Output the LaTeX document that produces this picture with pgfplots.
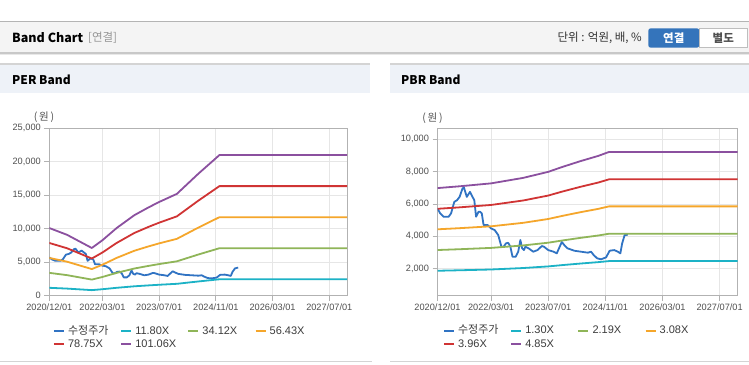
\documentclass[border=0pt]{standalone}
\usepackage{pgfplots}
\pgfplotsset{compat=1.18}
\usepackage{fontspec}
\setmainfont{Liberation Sans}
\newfontfamily\kr{Noto Sans CJK KR}
\definecolor{cprice}{RGB}{48,115,195}
\definecolor{ccyan}{RGB}{28,178,198}
\definecolor{cgreen}{RGB}{143,181,88}
\definecolor{corange}{RGB}{245,166,43}
\definecolor{cred}{RGB}{208,52,52}
\definecolor{cpurple}{RGB}{139,80,159}
\definecolor{gridc}{RGB}{230,230,230}
\definecolor{axisc}{RGB}{178,178,178}
\definecolor{tickc}{RGB}{80,80,80}
\definecolor{legc}{RGB}{60,60,60}
\definecolor{hdrbg}{RGB}{244,244,244}
\definecolor{panbg}{RGB}{238,242,248}
\definecolor{btnblue}{RGB}{52,116,187}
\definecolor{btnborder}{RGB}{190,190,190}

\pgfplotsset{
 bandaxis/.style={
   scale only axis, xmin=0, xmax=84,
   xtick={0,15,31,47,63,79},
   xticklabels={2020/12/01,2022/03/01,2023/07/01,2024/11/01,2026/03/01,2027/07/01},
   grid=major, major grid style={color=gridc, line width=0.8pt},
   axis line style={color=axisc, line width=0.9pt},
   tick style={color=axisc, line width=0.8pt},
   tick align=outside, major tick length=5pt, tick pos=left,
   ticklabel style={font=\fontsize{9.2}{10}\selectfont, text=tickc},
   /pgf/number format/assume math mode=true,
   /pgf/number format/1000 sep={,},
   scaled y ticks=false,
   legend columns=4,
   legend style={draw=none, fill=none, anchor=north west, inner sep=0pt, outer sep=0pt,
     column sep=0pt, row sep=2.5pt,
     nodes={inner sep=0pt, text height=8pt, text depth=2.5pt},
     font=\fontsize{11}{12}\selectfont, text=legc},
   legend cell align=left,
   legend image code/.code={\draw[#1, line width=2.2pt] (0pt,0pt) -- (10pt,0pt);},
   every axis plot/.append style={line width=1.8pt, mark=none, line join=round},
 }
}

\begin{document}
\begin{tikzpicture}[x=1pt,y=1pt]
\useasboundingbox (0,0) rectangle (749,364);
\fill[white] (0,0) rectangle (749,364);
% top header bar
\fill[hdrbg] (0,311) rectangle (749,342);
\draw[color={rgb,255:red,180;green,180;blue,180}, line width=1pt] (0,342)--(749,342);
\draw[color={rgb,255:red,200;green,200;blue,200}, line width=1.2pt] (0,311)--(749,311);
\draw[color={rgb,255:red,232;green,232;blue,232}, line width=1.2pt] (0,309.8)--(749,309.8);
\node[anchor=west, inner sep=0pt] at (12,326) {\kr\bfseries\fontsize{12.5}{14}\selectfont Band Chart};
\node[anchor=west, inner sep=0pt, text={rgb,255:red,150;green,150;blue,150}] at (88,326) {\kr\fontsize{11.5}{14}\selectfont [연결]};
\node[anchor=east, inner sep=0pt, text={rgb,255:red,51;green,51;blue,51}] at (642,326) {\kr\fontsize{11.5}{14}\selectfont 단위 : 억원, 배, \%};
\fill[btnblue, rounded corners=2.5pt] (648.3,316.3) rectangle (699.3,335.7);
\node[text=white, inner sep=0pt] at (673.8,326) {\kr\bfseries\fontsize{11.5}{14}\selectfont 연결};
\filldraw[fill=white, draw=btnborder, line width=0.8pt] (699.3,316.3) rectangle (747.3,335.7);
\node[text={rgb,255:red,80;green,80;blue,80}, inner sep=0pt] at (723.3,326) {\kr\bfseries\fontsize{11.5}{14}\selectfont 별도};
% panel headers
\fill[panbg] (0,271.3) rectangle (370,300);
\draw[color={rgb,255:red,212;green,212;blue,212}, line width=1.2pt] (0,300)--(370,300);
\node[anchor=west, inner sep=0pt] at (12,284) {\kr\bfseries\fontsize{12}{14}\selectfont PER Band};
\fill[panbg] (390,271.3) rectangle (749,300);
\draw[color={rgb,255:red,212;green,212;blue,212}, line width=1.2pt] (390,300)--(749,300);
\node[anchor=west, inner sep=0pt] at (401,284) {\kr\bfseries\fontsize{12}{14}\selectfont PBR Band};
\draw[color={rgb,255:red,212;green,212;blue,212}, line width=1pt] (0,2.3)--(372,2.3);
\draw[color={rgb,255:red,212;green,212;blue,212}, line width=1pt] (390,2.3)--(749,2.3);
\node[text=tickc, inner sep=0pt] at (44,246.5) {\kr\fontsize{10.5}{12}\selectfont (\,원\,)};
\node[text=tickc, inner sep=0pt] at (432.5,246) {\kr\fontsize{10.5}{12}\selectfont (\,원\,)};

% ---------------- PER ----------------
\begin{axis}[bandaxis, at={(49.3pt,68.3pt)}, anchor=south west,
  width=297.7pt, height=167.4pt, ymin=0, ymax=25000,
  ytick={0,5000,10000,15000,20000,25000},
  legend style={at={(0.012,-0.181)}}]
\addplot[cprice] coordinates {(0,5720)(0.75,5420)(1.7,5210)(3.1,5210)(3.8,5420)(4.7,6130)(5.5,6240)(6.2,6450)(7.0,6960)(7.4,7020)(8.2,6440)(9.1,6750)(9.8,6440)(10.3,6240)(10.8,5210)(11.5,5520)(11.9,5520)(12.4,5420)(12.9,4700)(14.0,4700)(15.0,4490)(16.0,4390)(17.0,4080)(17.9,3360)(18.5,3360)(19.2,3570)(19.8,3600)(20.4,3360)(21.0,2740)(21.9,2740)(22.6,3050)(23.2,3770)(23.7,3260)(24.2,3150)(24.6,3360)(25.5,3260)(26.8,3050)(28.0,3150)(29.2,3400)(29.8,3360)(31.0,3150)(32.5,3050)(33.4,2950)(34.8,3650)(35.5,3460)(36.4,3260)(38.3,3110)(40.2,3050)(42.1,2990)(43.0,3050)(43.7,2850)(44.7,2640)(45.8,2580)(47.2,2700)(48.2,3110)(49.5,3150)(50.5,3050)(51.2,2950)(51.7,3560)(52.4,4080)(53.3,4200)};
\addlegendentry{\makebox[55pt][l]{\hspace{3pt}\kr 수정주가}}
\addplot[ccyan] coordinates {(0,1180)(5,1062)(12,832)(15,968)(19,1180)(24,1404)(28,1540)(31,1634)(36,1776)(42,2124)(48,2452)(84,2452)};
\addlegendentry{\makebox[55pt][l]{\hspace{3pt}11.80X}}
\addplot[cgreen] coordinates {(0,3412)(5,3071)(12,2405)(15,2798)(19,3412)(24,4060)(28,4453)(31,4726)(36,5135)(42,6142)(48,7090)(84,7090)};
\addlegendentry{\makebox[55pt][l]{\hspace{3pt}34.12X}}
\addplot[corange] coordinates {(0,5643)(5,5079)(12,3978)(15,4627)(19,5643)(24,6715)(28,7364)(31,7816)(36,8493)(42,10157)(48,11726)(84,11726)};
\addlegendentry{\makebox[55pt][l]{\hspace{3pt}56.43X}}
\addplot[cred] coordinates {(0,7875)(5,7088)(12,5552)(15,6458)(19,7875)(24,9371)(28,10277)(31,10907)(36,11852)(42,14175)(48,16364)(84,16364)};
\addlegendentry{\makebox[55pt][l]{\hspace{3pt}78.75X}}
\addplot[cpurple] coordinates {(0,10106)(5,9095)(12,7125)(15,8287)(19,10106)(24,12026)(28,13188)(31,13997)(36,15209)(42,18191)(48,21000)(84,21000)};
\addlegendentry{\makebox[55pt][l]{\hspace{3pt}101.06X}}
\end{axis}

% ---------------- PBR ----------------
\begin{axis}[bandaxis, at={(437.5pt,68.3pt)}, anchor=south west,
  width=300pt, height=167.4pt, ymin=330, ymax=10680,
  ytick={2000,4000,6000,8000,10000},
  legend style={at={(0.018,-0.181)}}]
\addplot[cprice] coordinates {(0,5720)(0.75,5420)(1.7,5210)(3.1,5210)(3.8,5420)(4.7,6130)(5.5,6240)(6.2,6450)(7.0,6960)(7.4,7020)(8.2,6440)(9.1,6750)(9.8,6440)(10.3,6240)(10.8,5210)(11.5,5520)(11.9,5520)(12.4,5420)(12.9,4700)(14.0,4700)(15.0,4490)(16.0,4390)(17.0,4080)(17.9,3360)(18.5,3360)(19.2,3570)(19.8,3600)(20.4,3360)(21.0,2740)(21.9,2740)(22.6,3050)(23.2,3770)(23.7,3260)(24.2,3150)(24.6,3360)(25.5,3260)(26.8,3050)(28.0,3150)(29.2,3400)(29.8,3360)(31.0,3150)(32.5,3050)(33.4,2950)(34.8,3650)(35.5,3460)(36.4,3260)(38.3,3110)(40.2,3050)(42.1,2990)(43.0,3050)(43.7,2850)(44.7,2640)(45.8,2580)(47.2,2700)(48.2,3110)(49.5,3150)(50.5,3050)(51.2,2950)(51.7,3560)(52.4,4080)(53.3,4100)};
\addlegendentry{\makebox[55pt][l]{\hspace{3pt}\kr 수정주가}}
\addplot[ccyan] coordinates {(0,1872)(6,1901)(15,1950)(24,2041)(31,2141)(35,2223)(40,2318)(45,2405)(48,2470)(84,2470)};
\addlegendentry{\makebox[55pt][l]{\hspace{3pt}1.30X}}
\addplot[cgreen] coordinates {(0,3154)(6,3202)(15,3285)(24,3438)(31,3607)(35,3745)(40,3905)(45,4052)(48,4161)(84,4161)};
\addlegendentry{\makebox[55pt][l]{\hspace{3pt}2.19X}}
\addplot[corange] coordinates {(0,4435)(6,4503)(15,4620)(24,4836)(31,5073)(35,5267)(40,5492)(45,5698)(48,5852)(84,5852)};
\addlegendentry{\makebox[55pt][l]{\hspace{3pt}3.08X}}
\addplot[cred] coordinates {(0,5702)(6,5790)(15,5940)(24,6217)(31,6522)(35,6772)(40,7061)(45,7326)(48,7524)(84,7524)};
\addlegendentry{\makebox[55pt][l]{\hspace{3pt}3.96X}}
\addplot[cpurple] coordinates {(0,6984)(6,7091)(15,7275)(24,7615)(31,7988)(35,8294)(40,8648)(45,8973)(48,9215)(84,9215)};
\addlegendentry{\makebox[55pt][l]{\hspace{3pt}4.85X}}
\end{axis}
\end{tikzpicture}
\end{document}
